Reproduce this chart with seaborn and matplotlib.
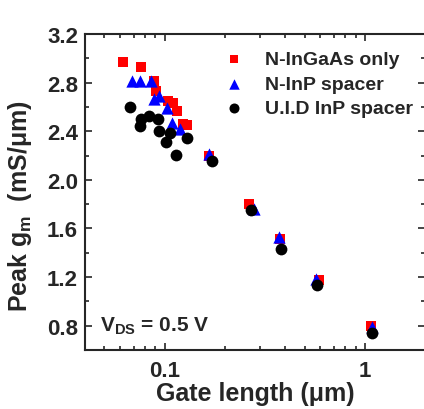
import numpy as np
import pandas as pd
import matplotlib
matplotlib.use('Agg')
import matplotlib.pyplot as plt
import seaborn as sns
from matplotlib.ticker import LogLocator, FixedLocator, FixedFormatter, MultipleLocator, FormatStrFormatter, NullFormatter

# ---- data ----
ingaas_L = [0.062, 0.076, 0.088, 0.091, 0.1035, 0.110, 0.115, 0.123, 0.129, 0.167, 0.265, 0.376, 0.59, 1.08]
ingaas_gm = [2.97, 2.93, 2.81, 2.73, 2.645, 2.63, 2.57, 2.46, 2.45, 2.20, 1.80, 1.51, 1.18, 0.80]

inp_L = [0.069, 0.0757, 0.085, 0.088, 0.0934, 0.1023, 0.109, 0.1188, 0.166, 0.280, 0.373, 0.568, 1.087]
inp_gm = [2.816, 2.814, 2.816, 2.662, 2.686, 2.592, 2.469, 2.419, 2.214, 1.762, 1.532, 1.187, 0.793]

uid_L = [0.0675, 0.0766, 0.0835, 0.0926, 0.0757, 0.0937, 0.1059, 0.102, 0.129, 0.1134, 0.1727, 0.270, 0.381, 0.579, 1.087]
uid_gm = [2.60, 2.502, 2.529, 2.502, 2.447, 2.405, 2.384, 2.315, 2.345, 2.206, 2.151, 1.748, 1.433, 1.132, 0.741]

labels = ["N-InGaAs only", "N-InP spacer", "U.I.D InP spacer"]
colors = ["#ff0000", "#0000ff", "#000000"]
markers = ["s", "^", "o"]
sizes = [55, 78, 72]

y_ticks = [0.8, 1.2, 1.6, 2.0, 2.4, 2.8, 3.2]

df = pd.concat([
    pd.DataFrame({"L": ingaas_L, "gm": ingaas_gm, "series": labels[0]}),
    pd.DataFrame({"L": inp_L, "gm": inp_gm, "series": labels[1]}),
    pd.DataFrame({"L": uid_L, "gm": uid_gm, "series": labels[2]}),
], ignore_index=True)

sns.set_style("ticks")
plt.rcParams['font.family'] = ['Liberation Sans', 'DejaVu Sans']
plt.rcParams['font.weight'] = 'bold'
plt.rcParams['mathtext.fontset'] = 'custom'
plt.rcParams['mathtext.rm'] = 'Liberation Sans:bold'
plt.rcParams['mathtext.default'] = 'rm'

fig = plt.figure(figsize=(4.24, 4.10), dpi=100)
ax = fig.add_axes([85 / 424, 59 / 410, 340 / 424, 316 / 410])

for lab, c, m, s in zip(labels, colors, markers, sizes):
    sub = df[df["series"] == lab]
    sns.scatterplot(data=sub, x="L", y="gm", ax=ax, color=c, marker=m, s=s,
                    linewidth=0, label=lab, zorder=3)

ax.set_xscale('log')
ax.set_xlim(0.04, 2.0)
ax.set_ylim(0.6, 3.2)

ax.xaxis.set_major_locator(FixedLocator([0.1, 1.0]))
ax.xaxis.set_major_formatter(FixedFormatter(["0.1", "1"]))
ax.xaxis.set_minor_locator(LogLocator(base=10, subs=np.arange(2, 10)))
ax.xaxis.set_minor_formatter(NullFormatter())
ax.yaxis.set_major_locator(FixedLocator(y_ticks))
ax.yaxis.set_major_formatter(FormatStrFormatter('%.1f'))
ax.yaxis.set_minor_locator(MultipleLocator(0.2))

ax.tick_params(which='both', direction='in', top=True, right=True, width=1.2, labelsize=16)
ax.tick_params(which='major', length=5)
ax.tick_params(which='minor', length=3)
ax.tick_params(axis='x', pad=7)
ax.tick_params(axis='y', pad=5)
for sp in ax.spines.values():
    sp.set_linewidth(1.5)

ax.set_xlabel("Gate length (\u03bcm)", fontsize=18, fontweight='bold', labelpad=0)
ax.set_ylabel("Peak g$_{m}$  (mS/\u03bcm)", fontsize=18, fontweight='bold')
ax.yaxis.set_label_coords(-0.15, 0.46)

ax.text(0.044, 0.06, "V$_{DS}$ = 0.5 V", transform=ax.transAxes, fontsize=15,
        fontweight='bold', ha='left', va='baseline')

leg = ax.legend(loc='upper right', bbox_to_anchor=(1.0, 0.985), frameon=False,
                fontsize=14, handletextpad=1.0, labelspacing=0.36,
                markerscale=0.85, borderaxespad=0.2, handlelength=1.2)
for t in leg.get_texts():
    t.set_fontweight('bold')

fig.savefig("out.png", dpi=100)
